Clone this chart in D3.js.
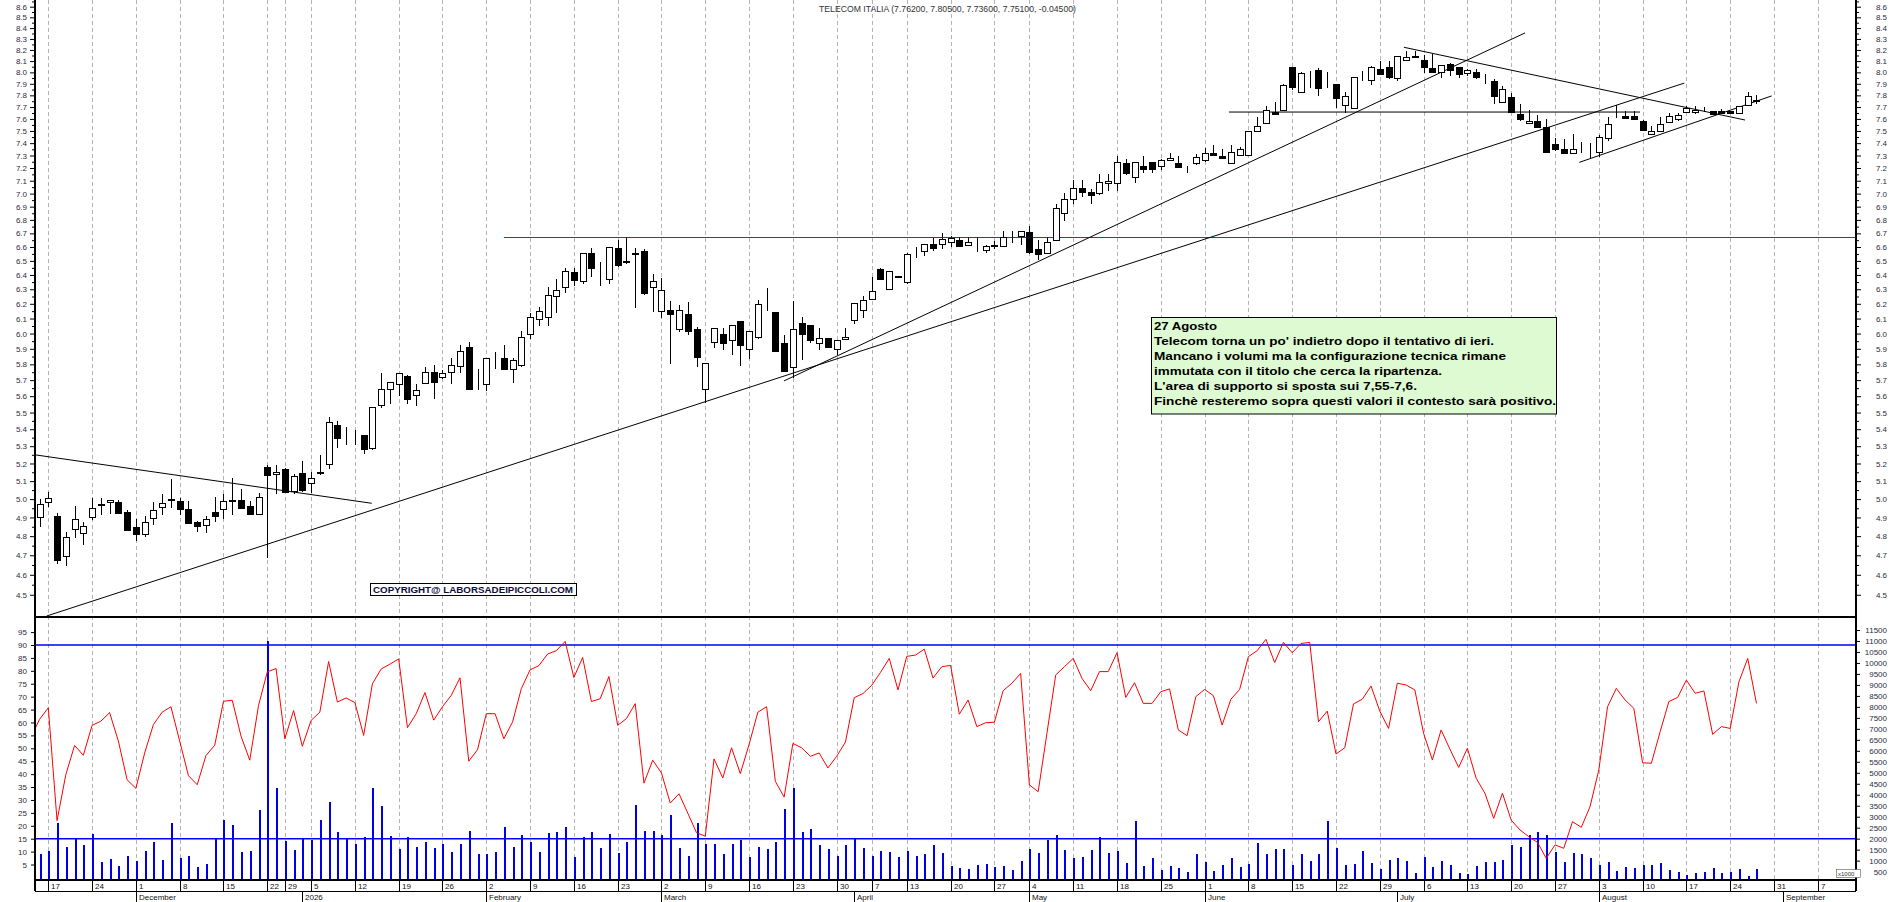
<!DOCTYPE html>
<html>
<head>
<meta charset="utf-8">
<script src="https://cdn.jsdelivr.net/npm/d3@7"></script>
<style>
  body { margin: 0; background: #fff; }
  text { font-family: "Liberation Sans", Arial, sans-serif; }
</style>
</head>
<body>
<svg id="chart" width="1890" height="902"></svg>
<script>
// trading calendar (Borsa Italiana closing days)
const calendarFrom = "2025-11-13";
const calendarTo = "2026-09-11";
const holidays = ["2025-12-24", "2025-12-25", "2025-12-26", "2025-12-31", "2026-01-01", "2026-04-03", "2026-04-06", "2026-05-01"];

const title = "TELECOM ITALIA (7.76200, 7.80500, 7.73600, 7.75100, -0.04500)";

// daily candles from 2025-11-14 to 2026-08-27
const candleFrom = "2025-11-14";
const opens = [
  4.905, 4.986, 4.907, 4.698, 4.84, 4.818, 4.90, 4.97, 4.985, 4.986,
  4.932, 4.85, 4.813, 4.898, 4.956, 4.994, 4.99, 4.948, 4.873, 4.858,
  4.932, 4.946, 4.987, 4.997, 4.96, 4.921, 5.181, 5.139, 5.166, 5.045,
  5.143, 5.087, 5.146, 5.195, 5.426, 5.37, 5.36, 5.364, 5.29, 5.545,
  5.643, 5.677, 5.726, 5.608, 5.684, 5.754, 5.718, 5.752, 5.789, 5.909,
  5.69, 5.676, 5.85, 5.839, 5.769, 5.793, 5.997, 6.096, 6.113, 6.254,
  6.313, 6.42, 6.36, 6.555, 6.475, 6.37, 6.59, 6.49, 6.55, 6.569,
  6.318, 6.154, 6.158, 6.03, 6.13, 6.03, 5.643, 5.942, 6.0, 5.96,
  6.084, 5.9, 5.98, 6.26, 6.143, 5.936, 5.78, 6.07, 6.06, 5.936,
  5.968, 5.897, 5.966, 6.09, 6.158, 6.23, 6.44, 6.3, 6.388, 6.354,
  6.568, 6.57, 6.62, 6.621, 6.635, 6.65, 6.616, 6.605, 6.577, 6.61,
  6.607, 6.70, 6.684, 6.708, 6.587, 6.556, 6.648, 6.852, 6.956, 7.046,
  7.015, 7.007, 7.08, 7.082, 7.24, 7.13, 7.22, 7.25, 7.22, 7.263,
  7.24, 7.2, 7.236, 7.263, 7.318, 7.3, 7.241, 7.307, 7.302, 7.5,
  7.565, 7.656, 7.671, 8.044, 7.832, 8.005, 8.02, 7.89, 7.9, 7.715,
  7.696, 7.982, 7.93, 8.03, 8.044, 7.947, 8.107, 8.145, 8.11, 8.036,
  8.0, 8.071, 8.044, 7.991, 8.0, 7.92, 7.924, 7.742, 7.789, 7.643,
  7.565, 7.584, 7.532, 7.39, 7.355, 7.32, 7.33, 7.35, 7.328, 7.446,
  7.621, 7.627, 7.621, 7.584, 7.475, 7.496, 7.573, 7.599, 7.66, 7.66,
  7.676, 7.668, 7.668, 7.67, 7.649, 7.72, 7.762
];
const highs = [
  5.0, 5.04, 4.925, 4.822, 4.96, 4.873, 5.008, 5.008, 4.997, 4.993,
  4.943, 4.89, 4.908, 4.982, 5.027, 5.112, 5.008, 4.99, 4.88, 4.907,
  5.01, 5.03, 5.117, 5.058, 4.99, 5.036, 5.19, 5.19, 5.174, 5.14,
  5.214, 5.15, 5.248, 5.474, 5.45, 5.415, 5.395, 5.364, 5.532, 5.742,
  5.69, 5.748, 5.734, 5.676, 5.78, 5.795, 5.764, 5.843, 5.926, 5.944,
  5.768, 5.839, 5.877, 5.925, 5.84, 6.02, 6.136, 6.18, 6.318, 6.37,
  6.45, 6.447, 6.555, 6.59, 6.493, 6.597, 6.65, 6.671, 6.59, 6.585,
  6.406, 6.38, 6.22, 6.19, 6.21, 6.046, 5.81, 6.035, 6.035, 6.057,
  6.084, 6.02, 6.223, 6.31, 6.143, 5.99, 6.22, 6.11, 6.06, 6.035,
  5.968, 5.958, 6.04, 6.204, 6.25, 6.388, 6.45, 6.425, 6.39, 6.56,
  6.6, 6.62, 6.664, 6.70, 6.68, 6.67, 6.67, 6.67, 6.615, 6.646,
  6.715, 6.715, 6.715, 6.752, 6.648, 6.67, 6.918, 7.007, 7.102, 7.102,
  7.038, 7.155, 7.155, 7.294, 7.273, 7.25, 7.294, 7.25, 7.268, 7.321,
  7.3, 7.22, 7.31, 7.361, 7.385, 7.353, 7.388, 7.37, 7.5, 7.62,
  7.71, 7.747, 7.895, 8.05, 8.0, 8.014, 8.035, 8.005, 7.9, 7.832,
  7.956, 8.014, 8.058, 8.097, 8.1, 8.146, 8.191, 8.191, 8.155, 8.16,
  8.065, 8.08, 8.05, 8.027, 8.027, 7.985, 7.938, 7.88, 7.824, 7.73,
  7.676, 7.632, 7.599, 7.446, 7.435, 7.476, 7.41, 7.4, 7.465, 7.618,
  7.715, 7.669, 7.663, 7.587, 7.543, 7.615, 7.649, 7.649, 7.71, 7.71,
  7.7, 7.668, 7.682, 7.67, 7.712, 7.83, 7.805
];
const lows = [
  4.855, 4.96, 4.662, 4.652, 4.796, 4.761, 4.89, 4.92, 4.925, 4.925,
  4.835, 4.78, 4.80, 4.867, 4.92, 4.958, 4.92, 4.87, 4.828, 4.822,
  4.88, 4.895, 4.916, 4.95, 4.92, 4.921, 4.69, 5.036, 5.042, 5.036,
  5.045, 5.04, 5.14, 5.172, 5.297, 5.31, 5.31, 5.262, 5.285, 5.532,
  5.56, 5.605, 5.556, 5.544, 5.684, 5.59, 5.713, 5.68, 5.75, 5.645,
  5.645, 5.64, 5.775, 5.773, 5.69, 5.79, 5.97, 6.057, 6.057, 6.147,
  6.284, 6.33, 6.346, 6.393, 6.33, 6.346, 6.46, 6.485, 6.18, 6.268,
  6.15, 6.11, 5.81, 6.02, 6.0, 5.79, 5.567, 5.914, 5.897, 5.865,
  5.795, 5.84, 5.973, 6.16, 5.883, 5.755, 5.72, 5.836, 5.946, 5.9,
  5.914, 5.865, 5.966, 6.07, 6.11, 6.23, 6.37, 6.3, 6.388, 6.346,
  6.53, 6.54, 6.58, 6.59, 6.606, 6.606, 6.616, 6.57, 6.563, 6.59,
  6.607, 6.64, 6.62, 6.56, 6.515, 6.556, 6.648, 6.8, 6.926, 6.98,
  6.93, 7.0, 7.03, 7.03, 7.155, 7.09, 7.17, 7.17, 7.19, 7.263,
  7.21, 7.17, 7.23, 7.255, 7.307, 7.28, 7.236, 7.307, 7.302, 7.5,
  7.565, 7.643, 7.671, 7.856, 7.832, 7.87, 7.8, 7.875, 7.704, 7.66,
  7.696, 7.93, 7.9, 7.985, 7.95, 7.933, 8.107, 8.14, 8.006, 8.006,
  7.962, 7.977, 7.962, 7.98, 7.953, 7.905, 7.733, 7.742, 7.66, 7.593,
  7.565, 7.532, 7.325, 7.345, 7.32, 7.32, 7.33, 7.28, 7.294, 7.424,
  7.62, 7.607, 7.599, 7.51, 7.475, 7.496, 7.573, 7.588, 7.66, 7.649,
  7.663, 7.64, 7.649, 7.652, 7.649, 7.72, 7.736
];
const closes = [
  4.975, 5.008, 4.674, 4.796, 4.89, 4.855, 4.95, 4.975, 4.995, 4.925,
  4.835, 4.81, 4.877, 4.943, 4.98, 5.0, 4.946, 4.87, 4.855, 4.892,
  4.908, 4.99, 4.997, 4.95, 4.92, 5.012, 5.137, 5.152, 5.042, 5.13,
  5.05, 5.12, 5.15, 5.445, 5.346, 5.372, 5.36, 5.286, 5.532, 5.647,
  5.69, 5.742, 5.58, 5.639, 5.752, 5.686, 5.748, 5.793, 5.883, 5.645,
  5.69, 5.839, 5.85, 5.773, 5.83, 5.98, 6.109, 6.149, 6.258, 6.293,
  6.428, 6.365, 6.555, 6.447, 6.478, 6.597, 6.47, 6.497, 6.56, 6.272,
  6.355, 6.296, 6.13, 6.158, 6.018, 5.845, 5.81, 6.035, 5.936, 6.057,
  5.922, 6.02, 6.2, 6.26, 5.883, 5.76, 6.03, 6.0, 5.96, 5.968,
  5.914, 5.958, 5.98, 6.204, 6.227, 6.285, 6.37, 6.425, 6.39, 6.548,
  6.57, 6.62, 6.594, 6.657, 6.664, 6.606, 6.64, 6.607, 6.611, 6.612,
  6.676, 6.705, 6.715, 6.563, 6.551, 6.64, 6.893, 6.961, 7.046, 7.012,
  6.99, 7.09, 7.097, 7.25, 7.162, 7.25, 7.194, 7.194, 7.26, 7.278,
  7.21, 7.202, 7.29, 7.321, 7.307, 7.28, 7.33, 7.353, 7.496, 7.537,
  7.671, 7.643, 7.89, 7.87, 7.991, 8.0, 7.86, 7.89, 7.78, 7.795,
  7.956, 7.985, 8.047, 7.985, 7.956, 8.146, 8.14, 8.14, 8.05, 8.006,
  8.065, 8.021, 7.988, 8.021, 7.962, 7.92, 7.798, 7.853, 7.66, 7.599,
  7.584, 7.532, 7.325, 7.352, 7.32, 7.355, 7.33, 7.352, 7.45, 7.557,
  7.621, 7.607, 7.599, 7.51, 7.502, 7.557, 7.627, 7.629, 7.696, 7.676,
  7.676, 7.64, 7.649, 7.652, 7.712, 7.796, 7.751
];

// oscillator (left scale), from 2025-11-13
const oscFrom = "2025-11-13";
const oscValues = [
  54.2, 61.2, 65.7, 22.0, 39.8, 51.1, 47.3, 58.9, 60.5, 63.8,
  52.8, 37.8, 34.5, 48.2, 59.2, 64.0, 66.1, 52.8, 39.4, 35.9,
  47.2, 51.2, 68.2, 68.6, 54.7, 45.4, 66.6, 79.6, 80.9, 53.7,
  64.6, 50.8, 60.8, 64.0, 83.6, 67.9, 69.5, 67.7, 55.0, 75.0,
  80.7, 82.6, 84.6, 58.0, 63.4, 71.6, 60.9, 66.1, 70.5, 77.3,
  45.0, 49.5, 63.4, 63.4, 53.7, 60.2, 73.1, 80.4, 82.0, 86.5,
  87.8, 91.4, 77.4, 85.2, 68.1, 69.2, 77.8, 58.9, 61.5, 67.3,
  36.5, 45.4, 40.4, 28.8, 32.4, 24.9, 17.3, 16.0, 45.9, 38.5,
  50.2, 40.2, 51.5, 64.0, 66.1, 37.2, 31.1, 51.9, 50.2, 46.9,
  48.2, 42.4, 46.9, 52.4, 69.6, 71.2, 74.4, 79.4, 84.8, 72.6,
  85.6, 86.1, 88.4, 77.2, 81.6, 82.1, 63.2, 68.7, 58.4, 59.9,
  60.1, 72.3, 75.2, 79.0, 35.8, 33.2, 55.8, 78.4, 81.6, 84.8,
  77.1, 72.3, 79.7, 79.7, 87.0, 69.7, 75.4, 67.4, 67.4, 71.9,
  73.0, 57.1, 54.9, 70.0, 72.8, 70.4, 59.0, 69.0, 72.8, 85.5,
  87.8, 92.2, 83.2, 91.0, 87.0, 90.6, 91.0, 60.3, 64.4, 47.8,
  50.2, 67.2, 69.0, 74.1, 64.4, 57.7, 75.2, 74.5, 72.6, 55.8,
  45.5, 57.1, 49.7, 42.6, 50.0, 38.4, 32.6, 22.9, 32.6, 22.2,
  18.4, 15.8, 13.6, 7.4, 12.6, 11.3, 21.6, 19.4, 27.4, 41.6,
  66.1, 73.2, 68.7, 65.5, 44.4, 44.2, 56.4, 68.1, 69.7, 76.4,
  71.3, 72.2, 55.4, 58.4, 57.7, 75.8, 84.8, 67.4
];
const oscLevels = [90, 15];

// volume in thousands of shares (right scale), from 2025-11-14
const volumeK = [
  1305, 1456, 2700, 1638, 2002, 1714, 2215, 938, 1074, 756,
  1211, 983, 1438, 1848, 1029, 2715, 1120, 1211, 710, 847,
  1984, 2852, 2624, 1393, 1438, 3307, 11013, 4308, 1893, 1484,
  1984, 1939, 2852, 3686, 2321, 1984, 1757, 2075, 4308, 3489,
  2124, 1529, 2075, 1620, 1848, 1575, 1757, 1393, 1757, 2351,
  1302, 1302, 1393, 2533, 1620, 2166, 1848, 1393, 2261, 2321,
  2533, 1165, 2075, 2321, 1575, 2215, 1347, 1848, 3534, 2367,
  2367, 2184, 3079, 1575, 1211, 2715, 1757, 1757, 1302, 1757,
  1939, 1165, 1620, 1529, 1848, 3353, 4308, 2321, 2442, 1714,
  1547, 1214, 1714, 2002, 1578, 1214, 1456, 1395, 1168, 1456,
  1214, 1305, 1714, 1335, 756, 649, 604, 801, 831, 695,
  756, 574, 983, 1532, 1347, 1942, 2169, 1484, 1135, 1165,
  1487, 2078, 1347, 1456, 892, 2806, 756, 1120, 574, 756,
  665, 467, 1302, 938, 528, 801, 1120, 710, 847, 1790,
  1305, 1547, 1517, 801, 1302, 983, 1305, 2821, 1578, 801,
  847, 1456, 892, 620, 1029, 1120, 983, 437, 1165, 710,
  983, 801, 437, 392, 756, 938, 938, 1029, 1714, 1608,
  2169, 2321, 2169, 1393, 938, 1365, 1305, 1120, 801, 938,
  528, 710, 665, 801, 801, 892, 574, 483, 346, 437,
  483, 665, 437, 483, 620, 300, 620
];

// drawn studies: [session from calendar start, price]
const resistanceLevel = 6.67;
const resistanceFrom = 54.02;
const trendLines = [
  [[0.60, 5.249], [38.92, 4.977]],
  [[1.82, 4.396], [188.76, 7.906]],
  [[85.98, 5.695], [170.57, 8.355]],
  [[156.76, 8.224], [195.69, 7.591]],
  [[136.78, 7.658], [183.70, 7.658]],
  [[176.77, 7.245], [198.73, 7.795]]
];

const priceTicks = [4.5, 4.6, 4.7, 4.8, 4.9, 5.0, 5.1, 5.2, 5.3, 5.4, 5.5, 5.6, 5.7, 5.8, 5.9,
  6.0, 6.1, 6.2, 6.3, 6.4, 6.5, 6.6, 6.7, 6.8, 6.9, 7.0, 7.1, 7.2, 7.3, 7.4, 7.5, 7.6, 7.7,
  7.8, 7.9, 8.0, 8.1, 8.2, 8.3, 8.4, 8.5, 8.6];
const oscTicks = [5, 10, 15, 20, 25, 30, 35, 40, 45, 50, 55, 60, 65, 70, 75, 80, 85, 90, 95];
const volTicks = [500, 1000, 1500, 2000, 2500, 3000, 3500, 4000, 4500, 5000, 5500, 6000,
  6500, 7000, 7500, 8000, 8500, 9000, 9500, 10000, 10500, 11000, 11500];

const noteLines = [
  "27 Agosto",
  "Telecom torna un po' indietro dopo il tentativo di ieri.",
  "Mancano i volumi ma la configurazione tecnica rimane",
  "immutata con il titolo che cerca la ripartenza.",
  "L'area di supporto si sposta sui 7,55-7,6.",
  "Finchè resteremo sopra questi valori il contesto sarà positivo."
];
const noteWidths = [63, 340, 352, 288, 263, 402];
const copyright = "COPYRIGHT@ LABORSADEIPICCOLI.COM";

// ---------------------------------------------------------------
const left = 35, right = 1856;
const priceBottom = 617, lowBottom = 880, rowLine = 891;

const parseDay = d3.utcParse("%Y-%m-%d");
const fmtDay = d3.utcFormat("%Y-%m-%d");
const sessions = d3.utcDays(parseDay(calendarFrom), d3.utcDay.offset(parseDay(calendarTo), 1))
  .filter(d => d.getUTCDay() !== 0 && d.getUTCDay() !== 6 && holidays.indexOf(fmtDay(d)) < 0);
const sessionOf = new Map(sessions.map((d, k) => [fmtDay(d), k]));

const x = d3.scaleLinear().domain([2, 204]).range([48.3, 1817.8]);
const yPrice = d3.scaleLog().domain([4.3911, 8.6637]).range([priceBottom, 0]);
const yOsc = d3.scaleLinear().domain([15, 90]).range([838.7, 645]);
const yVol = d3.scaleLinear().domain([0, 11500]).range([882.6, 630]);

const px = k => Math.round(x(k));

const svg = d3.select("#chart");
const defs = svg.append("defs");
defs.append("clipPath").attr("id", "clipPrice").append("rect")
  .attr("x", left).attr("y", 0).attr("width", right - left).attr("height", priceBottom);
defs.append("clipPath").attr("id", "clipLow").append("rect")
  .attr("x", left).attr("y", priceBottom).attr("width", right - left).attr("height", lowBottom - priceBottom);

svg.append("rect").attr("width", 1890).attr("height", 902).attr("fill", "#fff");

// week / month starts
const weekStarts = [], monthStarts = [];
sessions.forEach(function(d, k) {
  if (k === 0) return;
  const prev = sessions[k - 1];
  if (+d3.utcMonday.floor(d) !== +d3.utcMonday.floor(prev)) weekStarts.push(k);
  if (d.getUTCMonth() !== prev.getUTCMonth()) monthStarts.push(k);
});

// dashed grid
svg.append("g").selectAll("line").data(weekStarts).enter().append("line")
  .attr("x1", k => px(k) + 0.5).attr("x2", k => px(k) + 0.5)
  .attr("y1", 0).attr("y2", lowBottom)
  .attr("stroke", "#b4b4b4").attr("stroke-dasharray", "4,3");

// title
svg.append("text").attr("x", 819).attr("y", 11.5)
  .attr("font-size", 8.5).attr("fill", "#333")
  .attr("textLength", 257).attr("lengthAdjust", "spacingAndGlyphs")
  .text(title);

// ---- price panel
const pricePanel = svg.append("g").attr("clip-path", "url(#clipPrice)");

pricePanel.append("line")
  .attr("x1", x(resistanceFrom)).attr("x2", right)
  .attr("y1", Math.round(yPrice(resistanceLevel)) + 0.5).attr("y2", Math.round(yPrice(resistanceLevel)) + 0.5)
  .attr("stroke", "#e00000").attr("stroke-width", 1.2);

pricePanel.append("g").selectAll("line").data(trendLines).enter().append("line")
  .attr("x1", t => x(t[0][0])).attr("y1", t => yPrice(t[0][1]))
  .attr("x2", t => x(t[1][0])).attr("y2", t => yPrice(t[1][1]))
  .attr("stroke", "#000").attr("stroke-width", 1);

const k0 = sessionOf.get(candleFrom);
const candles = opens.map((o, j) => ({ k: k0 + j, o: o, h: highs[j], l: lows[j], c: closes[j] }));

const cg = pricePanel.append("g").attr("shape-rendering", "crispEdges");
cg.selectAll("line").data(candles).enter().append("line")
  .attr("x1", d => px(d.k) + 0.5).attr("x2", d => px(d.k) + 0.5)
  .attr("y1", d => Math.round(yPrice(d.h))).attr("y2", d => Math.round(yPrice(d.l)) + 1)
  .attr("stroke", "#000");
cg.selectAll("rect").data(candles).enter().append("rect")
  .attr("x", d => px(d.k) - 2.5)
  .attr("width", 6)
  .attr("y", d => Math.round(yPrice(Math.max(d.o, d.c))) + 0.5)
  .attr("height", d => Math.max(0, Math.round(yPrice(Math.min(d.o, d.c))) - Math.round(yPrice(Math.max(d.o, d.c)))))
  .attr("fill", d => d.c < d.o ? "#000" : "#fff")
  .attr("stroke", "#000").attr("stroke-width", 1);

// note box
const note = svg.append("g");
note.append("rect").attr("x", 1151.5).attr("y", 317.5).attr("width", 405).attr("height", 96.5)
  .attr("fill", "#ddfad2").attr("stroke", "#000");
note.selectAll("text").data(noteLines).enter().append("text")
  .attr("x", 1154).attr("y", (d, j) => 330 + j * 15)
  .attr("font-size", 11.5).attr("font-weight", "bold").attr("fill", "#000")
  .attr("textLength", (d, j) => noteWidths[j]).attr("lengthAdjust", "spacingAndGlyphs")
  .text(d => d);

// copyright stamp
svg.append("rect").attr("x", 370.5).attr("y", 583.5).attr("width", 206).attr("height", 12)
  .attr("fill", "#fff").attr("stroke", "#000");
svg.append("text").attr("x", 373).attr("y", 593.2)
  .attr("font-size", 9.5).attr("font-weight", "bold").attr("fill", "#0b0b3a")
  .attr("textLength", 200).attr("lengthAdjust", "spacingAndGlyphs")
  .text(copyright);

// ---- lower panel
const lowPanel = svg.append("g").attr("clip-path", "url(#clipLow)");
const v0 = sessionOf.get(candleFrom);
lowPanel.append("g").attr("shape-rendering", "crispEdges")
  .selectAll("rect").data(volumeK).enter().append("rect")
  .attr("x", (v, j) => px(v0 + j))
  .attr("width", 1.6)
  .attr("y", v => yVol(v))
  .attr("height", v => lowBottom - yVol(v))
  .attr("fill", "#0000e6");

lowPanel.append("g").selectAll("line").data(oscLevels).enter().append("line")
  .attr("x1", left).attr("x2", right)
  .attr("y1", v => yOsc(v)).attr("y2", v => yOsc(v))
  .attr("stroke", "#0000ff").attr("stroke-width", 1.6);

const o0 = sessionOf.get(oscFrom);
lowPanel.append("path")
  .datum(oscValues)
  .attr("d", d3.line().x((v, j) => x(o0 + j)).y(v => yOsc(v)))
  .attr("fill", "none").attr("stroke", "#ff0000").attr("stroke-width", 1);

// ---- frame
const frame = svg.append("g").attr("stroke", "#000").attr("shape-rendering", "crispEdges");
frame.append("line").attr("x1", left).attr("x2", right).attr("y1", priceBottom).attr("y2", priceBottom).attr("stroke-width", 1.5);
frame.append("line").attr("x1", left).attr("x2", right).attr("y1", lowBottom).attr("y2", lowBottom).attr("stroke-width", 1.5);
frame.append("line").attr("x1", left).attr("x2", right).attr("y1", rowLine).attr("y2", rowLine);
frame.append("line").attr("x1", left).attr("x2", left).attr("y1", 0).attr("y2", rowLine).attr("stroke-width", 1.5);
frame.append("line").attr("x1", right).attr("x2", right).attr("y1", 0).attr("y2", rowLine).attr("stroke-width", 1.5);

// ---- axes
function styleAxis(g, anchor, dx) {
  g.select(".domain").remove();
  g.selectAll("text").attr("font-size", 8).attr("fill", "#2a2d3a")
    .attr("font-family", "'Liberation Sans', Arial, sans-serif");
  if (anchor) g.selectAll("text").attr("text-anchor", anchor).attr("x", dx);
}
const minorPrice = priceTicks.map(p => p + 0.05).filter(p => p < 8.66);

svg.append("g").attr("transform", `translate(${left},0)`)
  .call(d3.axisLeft(yPrice).tickValues(priceTicks).tickFormat(d3.format(".1f")).tickSize(5).tickPadding(3))
  .call(g => styleAxis(g));
svg.append("g").attr("transform", `translate(${left},0)`)
  .call(d3.axisLeft(yPrice).tickValues(minorPrice).tickFormat("").tickSize(3))
  .call(g => g.select(".domain").remove());
svg.append("g").attr("transform", `translate(${right},0)`)
  .call(d3.axisRight(yPrice).tickValues(priceTicks).tickFormat(d3.format(".1f")).tickSize(5))
  .call(g => styleAxis(g, "end", 31));
svg.append("g").attr("transform", `translate(${right},0)`)
  .call(d3.axisRight(yPrice).tickValues(minorPrice).tickFormat("").tickSize(3))
  .call(g => g.select(".domain").remove());

svg.append("g").attr("transform", `translate(${left},0)`)
  .call(d3.axisLeft(yOsc).tickValues(oscTicks).tickFormat(d3.format("d")).tickSize(4).tickPadding(4))
  .call(g => styleAxis(g));
svg.append("g").attr("transform", `translate(${right},0)`)
  .call(d3.axisRight(yVol).tickValues(volTicks).tickFormat(d3.format("d")).tickSize(4))
  .call(g => styleAxis(g, "end", 31));

svg.append("rect").attr("x", 1836.5).attr("y", 869.5).attr("width", 24).attr("height", 8)
  .attr("fill", "#fff").attr("stroke", "#555").attr("stroke-width", 0.6);
svg.append("text").attr("x", 1838).attr("y", 876).attr("font-size", 6).attr("fill", "#333").text("x1000");

// ---- date rows
const dateAxis = svg.append("g").attr("shape-rendering", "crispEdges");
dateAxis.selectAll(".wk").data(weekStarts).enter().append("line")
  .attr("x1", k => px(k) + 0.5).attr("x2", k => px(k) + 0.5)
  .attr("y1", lowBottom).attr("y2", rowLine).attr("stroke", "#000");
dateAxis.selectAll(".wkl").data(weekStarts).enter().append("text")
  .attr("x", k => px(k) + 3).attr("y", 888.5)
  .attr("font-size", 8).attr("fill", "#111")
  .text(k => sessions[k].getUTCDate());
dateAxis.selectAll(".mo").data(monthStarts).enter().append("line")
  .attr("x1", k => px(k) + 0.5).attr("x2", k => px(k) + 0.5)
  .attr("y1", rowLine).attr("y2", 902).attr("stroke", "#000");
dateAxis.selectAll(".mol").data(monthStarts).enter().append("text")
  .attr("x", k => px(k) + 3).attr("y", 900)
  .attr("font-size", 8).attr("fill", "#111")
  .text(k => sessions[k].getUTCMonth() === 0 ? d3.utcFormat("%Y")(sessions[k]) : d3.utcFormat("%B")(sessions[k]));
</script>
</body>
</html>
